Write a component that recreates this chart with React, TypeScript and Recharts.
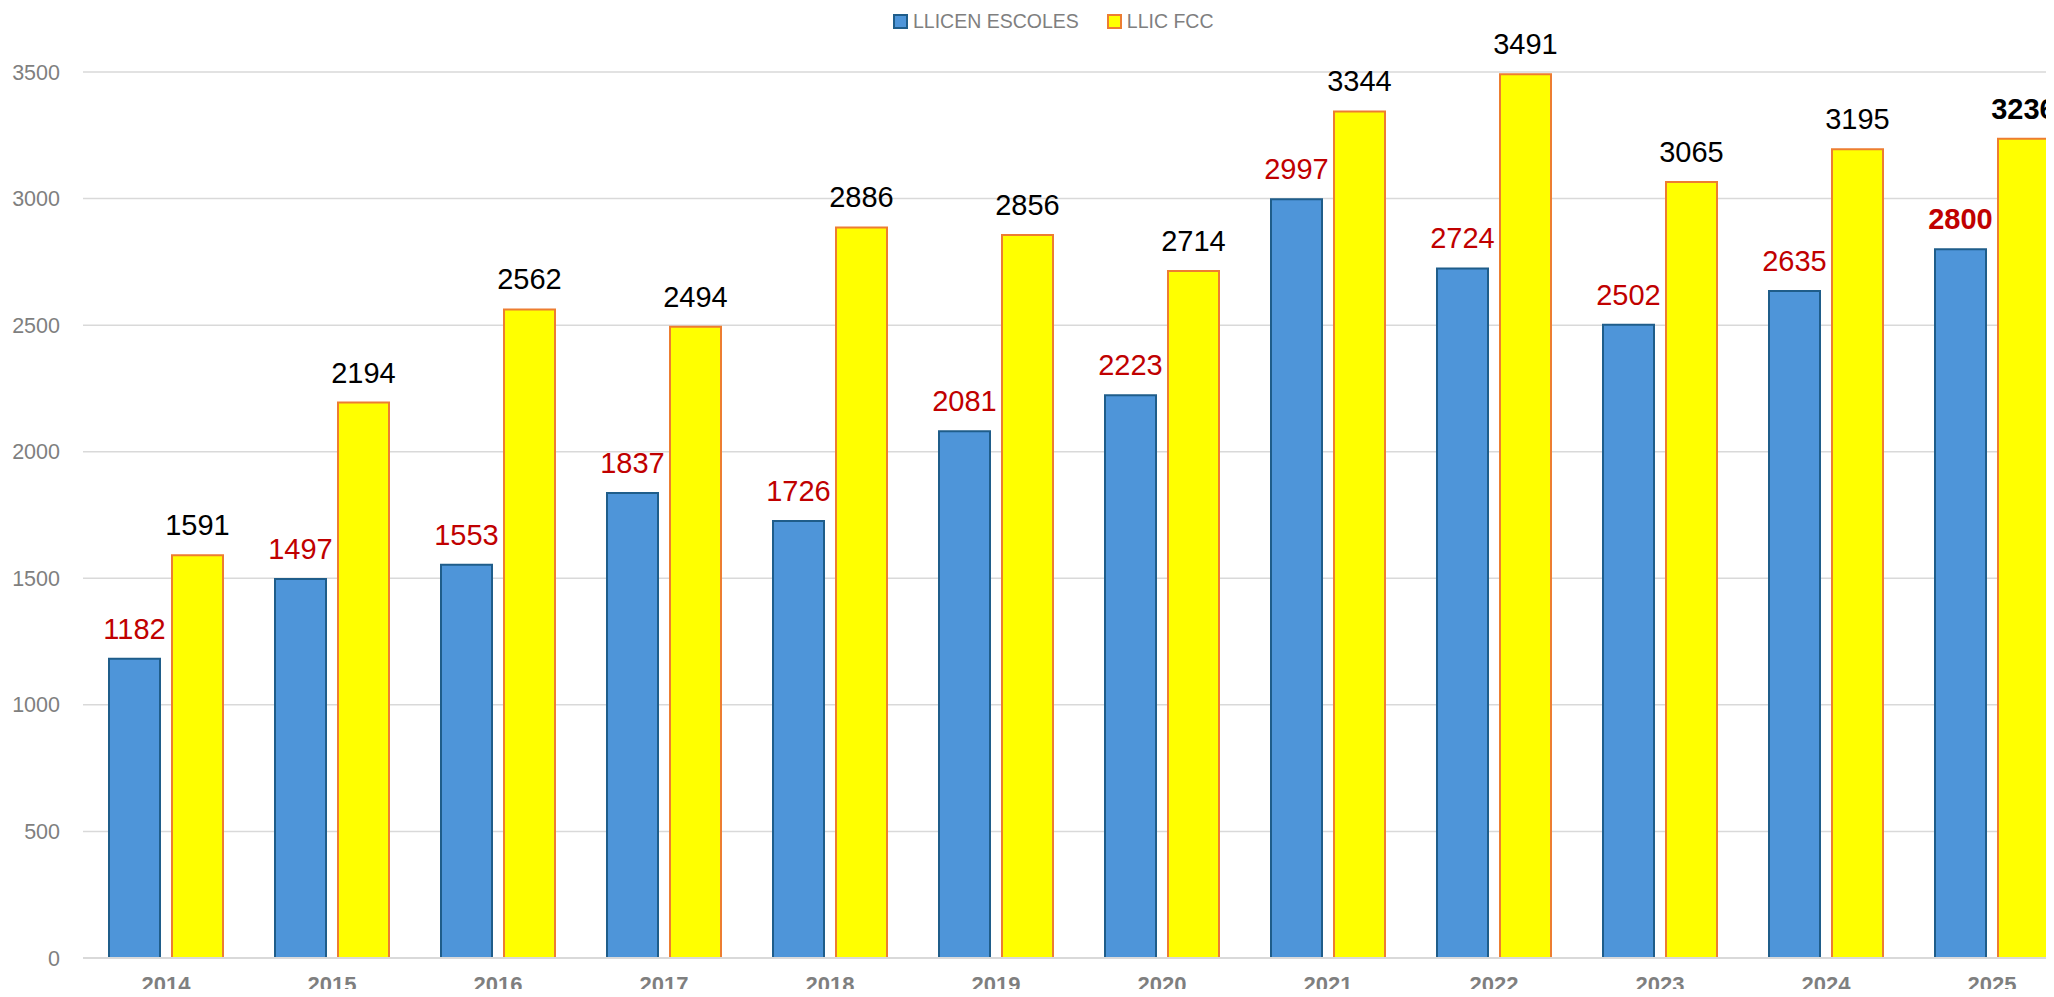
import React from 'react';
import { BarChart, Bar, XAxis, YAxis, CartesianGrid, LabelList } from 'recharts';

const years = ['2014', '2015', '2016', '2017', '2018', '2019', '2020', '2021', '2022', '2023', '2024', '2025'];
const llicenEscoles = [1182, 1497, 1553, 1837, 1726, 2081, 2223, 2997, 2724, 2502, 2635, 2800];
const llicFcc = [1591, 2194, 2562, 2494, 2886, 2856, 2714, 3344, 3491, 3065, 3195, 3236];
const yTicks = [0, 500, 1000, 1500, 2000, 2500, 3000, 3500];

const FONT = '"Liberation Sans", Arial, sans-serif';
const BLUE = '#4e95d9';
const BLUE_EDGE = '#1f5d8a';
const YELLOW = '#ffff00';
const YELLOW_EDGE = '#ed7d31';

const chartData = years.map((year, i) => ({
  year,
  escoles: llicenEscoles[i],
  fcc: llicFcc[i],
}));

const makeLabel = (color: string, series: number[]) => (props: any) => {
  const { x, y, width, value, index } = props;
  const last = index === series.length - 1 || (index === undefined && value === series[series.length - 1]);
  return (
    <text
      x={Number(x) + Number(width) / 2}
      y={Number(y) - 20}
      textAnchor="middle"
      fontFamily={FONT}
      fontSize={29}
      fontWeight={last ? 'bold' : 'normal'}
      fill={color}
    >
      {value}
    </text>
  );
};

const YearTick = (props: any) => {
  const { x, y, payload } = props;
  return (
    <text x={x} y={y + 32} textAnchor="middle" fill="#7f7f7f" fontFamily={FONT} fontWeight="bold" fontSize={22}>
      {payload.value}
    </text>
  );
};

const LegendItem = ({ fill, edge, text }: { fill: string; edge: string; text: string }) => (
  <div style={{ display: 'flex', alignItems: 'center', marginRight: 28 }}>
    <div style={{ width: 11, height: 11, background: fill, border: `2px solid ${edge}`, marginRight: 5 }} />
    <span style={{ color: '#7f7f7f', fontSize: 19.5, fontFamily: FONT }}>{text}</span>
  </div>
);

export default function App() {
  return (
    <div style={{ position: 'relative', margin: -8, width: 2054, height: 997, overflow: 'hidden', background: '#fff' }}>
      <div style={{ position: 'absolute', top: 10, left: 893, display: 'flex', alignItems: 'center', zIndex: 2 }}>
        <LegendItem fill={BLUE} edge={BLUE_EDGE} text="LLICEN ESCOLES" />
        <LegendItem fill={YELLOW} edge={YELLOW_EDGE} text="LLIC FCC" />
      </div>
      <BarChart
        width={2084}
        height={1000}
        data={chartData}
        margin={{ top: 72, right: 9, left: 0, bottom: 0 }}
        barGap={12}
      >
        <CartesianGrid vertical={false} stroke="#d9d9d9" strokeWidth={1.5} />
        <XAxis
          dataKey="year"
          height={42}
          axisLine={{ stroke: '#d9d9d9', strokeWidth: 2 }}
          tickLine={false}
          tickSize={0}
          tick={<YearTick />}
        />
        <YAxis
          width={83}
          domain={[0, 3500]}
          ticks={yTicks}
          axisLine={false}
          tickLine={false}
          tickSize={0}
          tickMargin={23}
          tick={{ fill: '#7f7f7f', fontSize: 21.5, fontFamily: FONT }}
        />
        <Bar dataKey="escoles" fill={BLUE} stroke={BLUE_EDGE} strokeWidth={2} barSize={51} isAnimationActive={false}>
          <LabelList dataKey="escoles" content={makeLabel('#c00000', llicenEscoles)} />
        </Bar>
        <Bar dataKey="fcc" fill={YELLOW} stroke={YELLOW_EDGE} strokeWidth={2} barSize={51} isAnimationActive={false}>
          <LabelList dataKey="fcc" content={makeLabel('#000000', llicFcc)} />
        </Bar>
      </BarChart>
    </div>
  );
}
